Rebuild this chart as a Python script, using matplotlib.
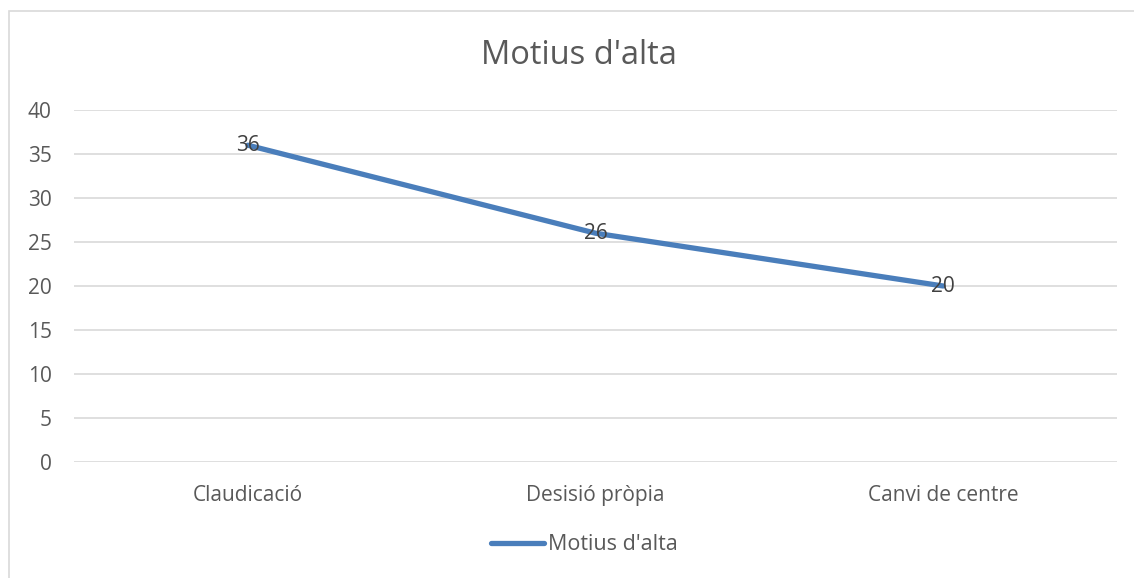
import matplotlib
matplotlib.use("Agg")
import matplotlib.pyplot as plt
from matplotlib.patches import Rectangle
from matplotlib.lines import Line2D

categories = ["Claudicació", "Desisió pròpia", "Canvi de centre"]
values = [36, 26, 20]
series_name = "Motius d'alta"
title = "Motius d'alta"
yticks = [0, 5, 10, 15, 20, 25, 30, 35, 40]

plt.rcParams['font.family'] = ['Open Sans', 'DejaVu Sans']
text_color = "#595959"
line_color = "#4A7EBB"
grid_color = "#D9D9D9"

W, H = 1134, 578
fig = plt.figure(figsize=(W / 100, H / 100), dpi=100)
fig.patch.set_facecolor("white")

# chart border (right and bottom edges fall outside the image)
fig.patches.append(Rectangle((9 / W, -0.01), 1.05 - 9 / W, 1 - 11 / H + 0.01,
                             transform=fig.transFigure, fill=False,
                             edgecolor=grid_color, linewidth=1.2))

ax = fig.add_axes([74 / W, 1 - 462 / H, (1117 - 74) / W, (462 - 110) / H])
x = list(range(len(categories)))
ax.plot(x, values, color=line_color, linewidth=3.8, solid_capstyle='round',
        label=series_name, zorder=3)
for xi, v in zip(x, values):
    ax.text(xi, v, str(v), ha='center', va='center', fontsize=15,
            color="#404040", zorder=4)

ax.set_xlim(-0.5, len(categories) - 0.5)
ax.set_ylim(0, 40)
ax.set_yticks(yticks)
ax.set_xticks(x)
ax.set_xticklabels(categories)
ax.tick_params(axis='both', length=0, labelsize=15, colors=text_color)
ax.tick_params(axis='x', pad=16.5)
ax.tick_params(axis='y', pad=16)
for lbl in ax.get_yticklabels():
    lbl.set_horizontalalignment('right')
ax.grid(axis='y', color=grid_color, linewidth=1.2)
ax.set_axisbelow(True)
for s in ax.spines.values():
    s.set_visible(False)

fig.text(579 / W, 1 - 55 / H, title, ha='center', va='center', fontsize=23.5,
         color=text_color)

handle = Line2D([], [], color=line_color, linewidth=3.8, solid_capstyle='round')
fig.legend([handle], [series_name], loc='center', bbox_to_anchor=(584 / W, 1 - 545 / H),
           frameon=False, fontsize=15.5, labelcolor=text_color,
           handlelength=2.5, handletextpad=0.15)

fig.savefig("out.png", dpi=100, facecolor="white")
